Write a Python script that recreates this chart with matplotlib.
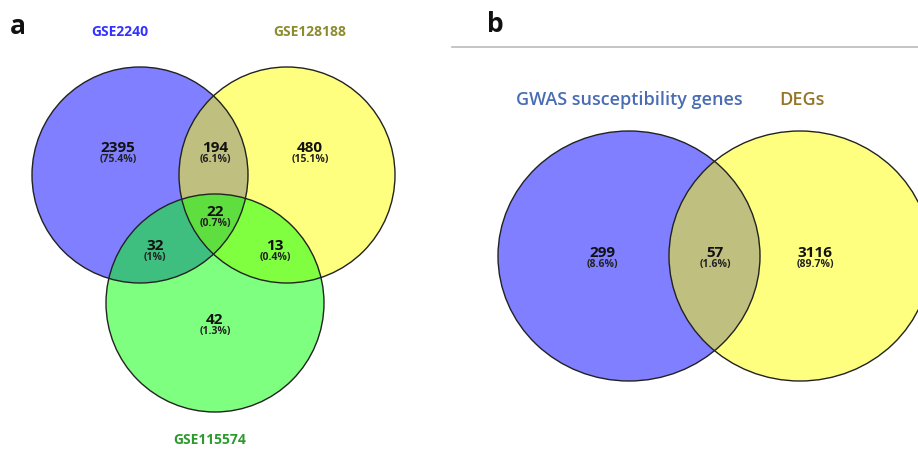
import matplotlib.pyplot as plt
from matplotlib.patches import Ellipse

plt.rcParams['font.family'] = ['Open Sans', 'DejaVu Sans']

# panel a: three-way overlap of DEG sets
sets_a = ['GSE2240', 'GSE128188', 'GSE115574']
set_colors_a = ['#3333ff', '#8c8c2e', '#2e9a2e']
region_counts_a = [2395, 194, 480, 22, 32, 13, 42]
region_pcts_a = ['75.4%', '6.1%', '15.1%', '0.7%', '1%', '0.4%', '1.3%']

# panel b: GWAS genes vs DEGs
sets_b = ['GWAS susceptibility genes', 'DEGs']
set_colors_b = ['#4a6cb3', '#94752a']
region_counts_b = [299, 57, 3116]
region_pcts_b = ['8.6%', '1.6%', '89.7%']

fill_colors = ['#0000ff', '#ffff00', '#00ff00']

W, H = 918, 452
fig = plt.figure(figsize=(W / 100, H / 100), dpi=100)
ax = fig.add_axes([0, 0, 1, 1])
ax.set_xlim(0, W)
ax.set_ylim(H, 0)
ax.axis('off')

# circle layout (pixel space)
circles_a = [(140, 176, 216, 216), (287, 176, 216, 216), (215, 304, 218, 218)]
circles_b = [(629, 257, 262, 250), (800, 257, 262, 250)]

for (cx, cy, w, h), col in zip(circles_a, fill_colors):
    ax.add_patch(Ellipse((cx, cy), w, h, facecolor=col, alpha=0.5, edgecolor='none'))
for (cx, cy, w, h) in circles_a:
    ax.add_patch(Ellipse((cx, cy), w, h, facecolor='none', edgecolor='#222222', lw=1.0))

for (cx, cy, w, h), col in zip(circles_b, fill_colors[:2]):
    ax.add_patch(Ellipse((cx, cy), w, h, facecolor=col, alpha=0.5, edgecolor='none'))
for (cx, cy, w, h) in circles_b:
    ax.add_patch(Ellipse((cx, cy), w, h, facecolor='none', edgecolor='#222222', lw=1.0))

# region label anchors
label_pos_a = [(118, 148), (215, 148), (310, 148), (215, 212), (155, 246), (275, 246), (215, 320)]
label_pos_b = [(602, 253), (715, 253), (815, 253)]


def region_label(x, y, n, pct):
    ax.text(x, y, str(n), ha='center', va='center', fontsize=11, fontweight='bold', color='#111111')
    ax.text(x, y + 12, '(' + pct + ')', ha='center', va='center', fontsize=7.5, fontweight='bold', color='#222222')


for (x, y), n, p in zip(label_pos_a, region_counts_a, region_pcts_a):
    region_label(x, y, n, p)
for (x, y), n, p in zip(label_pos_b, region_counts_b, region_pcts_b):
    region_label(x, y, n, p)

# set names
for (x, y), name, col in zip([(120, 32), (310, 32), (210, 440)], sets_a, set_colors_a):
    ax.text(x, y, name, ha='center', va='center', fontsize=10, fontweight='bold', color=col)
for (x, y), name, col in zip([(629, 100), (802, 100)], sets_b, set_colors_b):
    ax.text(x, y, name, ha='center', va='center', fontsize=13, fontweight='semibold', color=col)

# panel letters and divider
ax.text(18, 27, 'a', ha='center', va='center', fontsize=19, fontweight='bold', color='#111111')
ax.text(495, 25, 'b', ha='center', va='center', fontsize=19, fontweight='bold', color='#111111')
ax.plot([452, 918], [48, 48], color='#bbbbbb', lw=1.2)

fig.savefig('out.png', dpi=100)
